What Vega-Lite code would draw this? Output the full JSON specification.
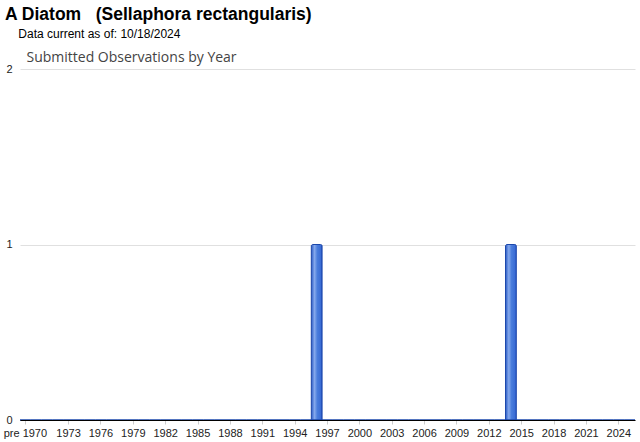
{
  "$schema": "https://vega.github.io/schema/vega-lite/v6.json",
  "autosize": {"type": "none"},
  "width": 615,
  "height": 351,
  "padding": {"left": 20, "top": 69, "right": 5, "bottom": 22},
  "background": "white",
  "title": {
    "text": "A Diatom\u00a0\u00a0\u00a0(Sellaphora rectangularis)",
    "subtitle": "\u200b\u00a0\u00a0\u00a0\u00a0Data current as of: 10/18/2024",
    "anchor": "start",
    "frame": "group",
    "orient": "top",
    "offset": 10,
    "dx": -15,
    "font": "Liberation Sans",
    "fontSize": 17.5,
    "fontWeight": "bold",
    "color": "#000000",
    "subtitleFont": "Liberation Sans",
    "subtitleFontSize": 12,
    "subtitleColor": "#000000",
    "subtitlePadding": 6
  },
  "data": {
    "values": [
      {"year": "pre 1970", "count": 0},
      {"year": "1970", "count": 0}, {"year": "1971", "count": 0}, {"year": "1972", "count": 0},
      {"year": "1973", "count": 0}, {"year": "1974", "count": 0}, {"year": "1975", "count": 0},
      {"year": "1976", "count": 0}, {"year": "1977", "count": 0}, {"year": "1978", "count": 0},
      {"year": "1979", "count": 0}, {"year": "1980", "count": 0}, {"year": "1981", "count": 0},
      {"year": "1982", "count": 0}, {"year": "1983", "count": 0}, {"year": "1984", "count": 0},
      {"year": "1985", "count": 0}, {"year": "1986", "count": 0}, {"year": "1987", "count": 0},
      {"year": "1988", "count": 0}, {"year": "1989", "count": 0}, {"year": "1990", "count": 0},
      {"year": "1991", "count": 0}, {"year": "1992", "count": 0}, {"year": "1993", "count": 0},
      {"year": "1994", "count": 0}, {"year": "1995", "count": 0}, {"year": "1996", "count": 1},
      {"year": "1997", "count": 0}, {"year": "1998", "count": 0}, {"year": "1999", "count": 0},
      {"year": "2000", "count": 0}, {"year": "2001", "count": 0}, {"year": "2002", "count": 0},
      {"year": "2003", "count": 0}, {"year": "2004", "count": 0}, {"year": "2005", "count": 0},
      {"year": "2006", "count": 0}, {"year": "2007", "count": 0}, {"year": "2008", "count": 0},
      {"year": "2009", "count": 0}, {"year": "2010", "count": 0}, {"year": "2011", "count": 0},
      {"year": "2012", "count": 0}, {"year": "2013", "count": 0}, {"year": "2014", "count": 1},
      {"year": "2015", "count": 0}, {"year": "2016", "count": 0}, {"year": "2017", "count": 0},
      {"year": "2018", "count": 0}, {"year": "2019", "count": 0}, {"year": "2020", "count": 0},
      {"year": "2021", "count": 0}, {"year": "2022", "count": 0}, {"year": "2023", "count": 0},
      {"year": "2024", "count": 0}, {"year": "2025", "count": 0}
    ]
  },
  "mark": {
    "type": "bar",
    "fill": {
      "gradient": "linear",
      "x1": 0, "x2": 1, "y1": 0, "y2": 0,
      "stops": [
        {"offset": 0, "color": "#2c5cc6"},
        {"offset": 0.3, "color": "#86a9ec"},
        {"offset": 0.55, "color": "#4a7ddc"},
        {"offset": 1, "color": "#3566d2"}
      ]
    },
    "stroke": "#1b47ab",
    "strokeWidth": 1,
    "cornerRadiusTopLeft": 1.5,
    "cornerRadiusTopRight": 1.5
  },
  "encoding": {
    "x": {
      "field": "year",
      "type": "ordinal",
      "sort": null,
      "scale": {"paddingInner": 0, "paddingOuter": 0},
      "axis": {
        "title": null,
        "values": ["pre 1970", "1973", "1976", "1979", "1982", "1985", "1988", "1991", "1994", "1997", "2000", "2003", "2006", "2009", "2012", "2015", "2018", "2021", "2024"],
        "labelAngle": 0,
        "labelFont": "Liberation Sans",
        "labelFontSize": 11,
        "labelColor": "#222222",
        "labelPadding": 3,
        "domainColor": "#000000",
        "domainWidth": 1,
        "tickColor": "#cccccc",
        "tickSize": 4,
        "zindex": 1
      }
    },
    "y": {
      "field": "count",
      "type": "quantitative",
      "scale": {"domain": [0, 2], "nice": false},
      "axis": {
        "tickCount": 2,
        "labelOverlap": false,
        "title": "Submitted Observations by Year",
        "titleAngle": 0,
        "titleX": 6,
        "titleY": -12,
        "titleAlign": "left",
        "titleBaseline": "middle",
        "titleFont": "Open Sans",
        "titleFontSize": 14,
        "titleFontWeight": "normal",
        "titleColor": "#444444",
        "labelFont": "Liberation Sans",
        "labelFontSize": 11,
        "labelColor": "#222222",
        "labelPadding": 8,
        "domain": false,
        "ticks": false,
        "grid": true,
        "gridColor": "#e0e0e0"
      }
    }
  },
  "config": {"view": {"stroke": null}}
}
